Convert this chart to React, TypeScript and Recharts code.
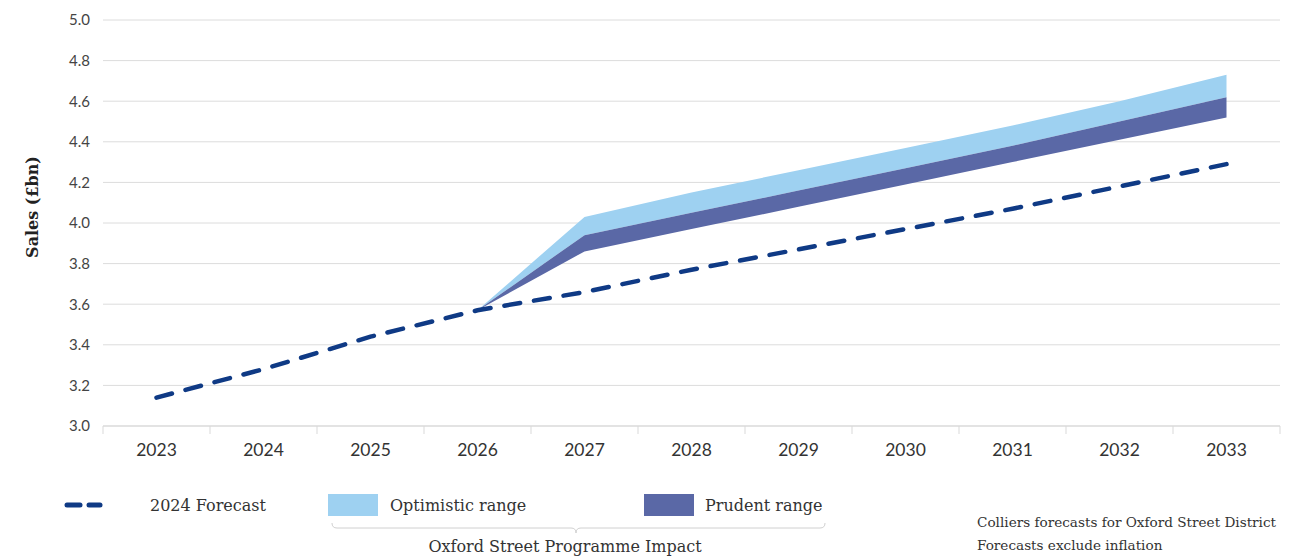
import React from "react";
import { ComposedChart, Area, Line, XAxis, YAxis, CartesianGrid } from "recharts";

const years = ["2023", "2024", "2025", "2026", "2027", "2028", "2029", "2030", "2031", "2032", "2033"];
const forecast2024 = [3.14, 3.28, 3.44, 3.57, 3.66, 3.77, 3.87, 3.97, 4.07, 4.18, 4.29];
const optimisticTop = [null, null, null, 3.57, 4.03, 4.15, 4.26, 4.37, 4.48, 4.6, 4.73];
const prudentTop = [null, null, null, 3.57, 3.94, 4.05, 4.16, 4.27, 4.38, 4.5, 4.62];
const prudentBottom = [null, null, null, 3.57, 3.86, 3.97, 4.08, 4.19, 4.3, 4.41, 4.52];
const yTicks = [3.0, 3.2, 3.4, 3.6, 3.8, 4.0, 4.2, 4.4, 4.6, 4.8, 5.0];

const data = years.map((y, i) => ({
  year: y,
  forecast: forecast2024[i],
  optimistic: optimisticTop[i] == null ? null : [prudentTop[i], optimisticTop[i]],
  prudent: prudentTop[i] == null ? null : [prudentBottom[i], prudentTop[i]],
}));

const DARK = "#0f3a85";
const LIGHT = "#9ed1f1";
const PRUDENT = "#5a68a6";
const SERIF = "'DejaVu Serif', 'Liberation Serif', serif";
const SANS = "Lato, 'Open Sans', sans-serif";

const XTick = (props: any) => {
  const { x, y, payload, index, visibleTicksCount } = props;
  const half = 107 / 2;
  return (
    <g>
      <line x1={x - half} x2={x - half} y1={y - 8} y2={y} stroke="#d9d9d9" strokeWidth={1} />
      {index === visibleTicksCount - 1 && (
        <line x1={x + half} x2={x + half} y1={y - 8} y2={y} stroke="#d9d9d9" strokeWidth={1} />
      )}
      <text x={x} y={y + 22} textAnchor="middle" fill="#333" fontSize={17.5} fontFamily={SANS}>
        {payload.value}
      </text>
    </g>
  );
};

export default function App() {
  return (
    <div style={{ position: "absolute", left: 0, top: 0, width: 1300, height: 557, background: "#fff" }}>
      <ComposedChart
        width={1300}
        height={470}
        data={data}
        margin={{ top: 20, right: 20, left: 0, bottom: 0 }}
      >
        <CartesianGrid horizontal vertical={false} stroke="#dcdcdc" strokeWidth={1} />
        <XAxis
          dataKey="year"
          scale="band"
          height={44}
          tickLine={false}
          axisLine={{ stroke: "#d9d9d9" }}
          tick={<XTick />}
          interval={0}
        />
        <YAxis
          width={103}
          domain={[3, 5]}
          ticks={yTicks}
          tickFormatter={(v: number) => v.toFixed(1)}
          tickLine={false}
          axisLine={false}
          tickSize={0}
          tickMargin={13}
          tick={{ fill: "#444", fontSize: 15, fontFamily: SANS }}
        />
        <Area
          type="linear"
          dataKey="optimistic"
          stroke="none"
          fill={LIGHT}
          fillOpacity={1}
          isAnimationActive={false}
          connectNulls={false}
          dot={false}
          activeDot={false}
        />
        <Area
          type="linear"
          dataKey="prudent"
          stroke="none"
          fill={PRUDENT}
          fillOpacity={1}
          isAnimationActive={false}
          connectNulls={false}
          dot={false}
          activeDot={false}
        />
        <Line
          type="linear"
          dataKey="forecast"
          stroke={DARK}
          strokeWidth={4.5}
          strokeDasharray="16 14"
          strokeLinecap="round"
          dot={false}
          activeDot={false}
          isAnimationActive={false}
        />
      </ComposedChart>
      <svg width={60} height={470} style={{ position: "absolute", left: 0, top: 0 }}>
        <text
          x={38}
          y={207}
          transform="rotate(-90 38 207)"
          textAnchor="middle"
          fontFamily={SERIF}
          fontWeight="bold"
          fontSize={16}
          fill="#222"
        >
          Sales (£bn)
        </text>
      </svg>
      <svg width={1300} height={87} style={{ position: "absolute", left: 0, top: 470 }}>
        <line x1={67} x2={80} y1={35} y2={35} stroke={DARK} strokeWidth={5} strokeLinecap="round" />
        <line x1={89} x2={100} y1={35} y2={35} stroke={DARK} strokeWidth={5} strokeLinecap="round" />
        <text x={150} y={41} fontFamily={SERIF} fontSize={16} fill="#333" textLength={116} lengthAdjust="spacingAndGlyphs">2024 Forecast</text>
        <rect x={328} y={24} width={50} height={22} fill={LIGHT} />
        <text x={390} y={41} fontFamily={SERIF} fontSize={16} fill="#333">Optimistic range</text>
        <rect x={644} y={24} width={50} height={22} fill={PRUDENT} />
        <text x={705} y={41} fontFamily={SERIF} fontSize={16} fill="#333">Prudent range</text>
        <path d="M332,53 Q332,58 337,58 L571,58 Q576,58 576,63 Q576,58 581,58 L820,58 Q825,58 825,53" fill="none" stroke="#d0d0d0" strokeWidth={1} />
        <text x={565} y={82} textAnchor="middle" fontFamily={SERIF} fontSize={16} fill="#333">Oxford Street Programme Impact</text>
        <text x={977} y={57} fontFamily={SERIF} fontSize={13.6} fill="#333">Colliers forecasts for Oxford Street District</text>
        <text x={977} y={80} fontFamily={SERIF} fontSize={13.6} fill="#333">Forecasts exclude inflation</text>
      </svg>
    </div>
  );
}
